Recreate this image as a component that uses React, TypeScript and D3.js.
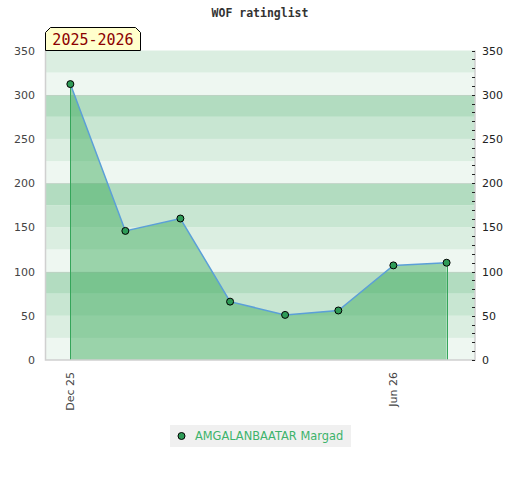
import React, { useEffect, useRef } from 'react';
import * as d3 from 'd3';

// monthly ratings, Dec 2025 .. Jul 2026
const months = ['2025-12-01', '2026-01-01', '2026-02-01', '2026-03-01', '2026-04-01', '2026-05-01', '2026-06-01', '2026-07-01'];
const ratings = [312, 146, 160, 66, 51, 56, 107, 110];
const yTicks = [0, 50, 100, 150, 200, 250, 300, 350];
const xTickDates = ['2025-12-01', '2026-06-01'];
const playerName = 'AMGALANBAATAR Margad';
const seasonLabel = '2025-2026';
const chartTitle = 'WOF ratinglist';

const App: React.FC = () => {
  const svgRef = useRef<SVGSVGElement>(null);

  useEffect(() => {
    const width = 520;
    const height = 480;
    const left = 45.5;
    const right = 475;
    const top = 50.5;
    const bottom = 360;

    const svg = d3.select(svgRef.current).attr('width', width).attr('height', height);
    svg.selectAll('*').remove();

    const parse = d3.utcParse('%Y-%m-%d');
    const data = months.map((m, i) => ({ date: parse(m) as Date, value: ratings[i] }));

    const x = d3.scaleUtc()
      .domain([parse('2025-11-17') as Date, parse('2026-07-17') as Date])
      .range([left, right]);
    const y = d3.scaleLinear().domain([0, 350]).range([bottom, top]);

    // horizontal bands every 25
    const bandColors = ['#eef7f1', '#dbeee1', '#c8e6d2', '#b2dcc0'];
    const bands = d3.range(0, 350, 25);
    svg.append('g')
      .selectAll('rect')
      .data(bands)
      .enter()
      .append('rect')
      .attr('x', left)
      .attr('width', right - left)
      .attr('y', d => y(d + 25))
      .attr('height', d => y(d) - y(d + 25))
      .attr('fill', d => bandColors[(d / 25) % 4]);

    // grid lines at hundreds
    svg.append('g')
      .selectAll('line')
      .data([100, 200, 300])
      .enter()
      .append('line')
      .attr('x1', left)
      .attr('x2', right)
      .attr('y1', d => Math.round(y(d)) + 0.5)
      .attr('y2', d => Math.round(y(d)) + 0.5)
      .attr('stroke', '#c8c8c8')
      .attr('stroke-opacity', 0.45)
      .attr('stroke-width', 1);

    // area
    const area = d3.area<{ date: Date; value: number }>()
      .x(d => x(d.date))
      .y0(bottom)
      .y1(d => y(d.value));
    svg.append('path')
      .datum(data)
      .attr('d', area)
      .attr('fill', 'rgb(51,167,85)')
      .attr('fill-opacity', 0.45);

    // vertical edges of the area
    const first = data[0];
    const last = data[data.length - 1];
    svg.append('g')
      .selectAll('line')
      .data([first, last])
      .enter()
      .append('line')
      .attr('x1', d => Math.round(x(d.date)) + 0.5)
      .attr('x2', d => Math.round(x(d.date)) + 0.5)
      .attr('y1', d => y(d.value))
      .attr('y2', bottom)
      .attr('stroke', '#35a55a')
      .attr('stroke-width', 1);

    // line
    const line = d3.line<{ date: Date; value: number }>()
      .x(d => x(d.date))
      .y(d => y(d.value));
    svg.append('path')
      .datum(data)
      .attr('d', line)
      .attr('fill', 'none')
      .attr('stroke', '#5b9fd8')
      .attr('stroke-width', 1.5);

    // points
    svg.append('g')
      .selectAll('circle')
      .data(data)
      .enter()
      .append('circle')
      .attr('cx', d => x(d.date))
      .attr('cy', d => y(d.value))
      .attr('r', 3.5)
      .attr('fill', '#2e9b57')
      .attr('stroke', '#000')
      .attr('stroke-width', 1);

    // frame
    svg.append('path')
      .attr('d', `M${left},${top}V${bottom}H${right}V${top}`)
      .attr('fill', 'none')
      .attr('stroke', '#d0d0d0')
      .attr('stroke-width', 1.5);

    // left axis labels
    svg.append('g')
      .selectAll('text')
      .data(yTicks)
      .enter()
      .append('text')
      .attr('x', 35)
      .attr('y', d => y(d) + 4)
      .attr('text-anchor', 'end')
      .attr('font-family', 'DejaVu Sans')
      .attr('font-size', 11)
      .attr('fill', '#444')
      .text(d => d);

    // right axis with minor ticks
    svg.append('g')
      .selectAll('line')
      .data(d3.range(0, 351, 10))
      .enter()
      .append('line')
      .attr('x1', right - 3)
      .attr('x2', right)
      .attr('y1', d => Math.round(y(d)) + 0.5)
      .attr('y2', d => Math.round(y(d)) + 0.5)
      .attr('stroke', '#222')
      .attr('stroke-width', 1);
    svg.append('g')
      .selectAll('text')
      .data(yTicks)
      .enter()
      .append('text')
      .attr('x', 482)
      .attr('y', d => y(d) + 4)
      .attr('font-family', 'DejaVu Sans')
      .attr('font-size', 11)
      .attr('fill', '#222')
      .text(d => d);

    // x labels
    const fmt = d3.utcFormat('%b %y');
    svg.append('g')
      .selectAll('text')
      .data(xTickDates.map(d => parse(d) as Date))
      .enter()
      .append('text')
      .attr('transform', d => `translate(${x(d) + 4},372) rotate(-90)`)
      .attr('text-anchor', 'end')
      .attr('font-family', 'DejaVu Sans')
      .attr('font-size', 11)
      .attr('fill', '#444')
      .text(d => fmt(d));

    // title
    svg.append('text')
      .attr('x', 260)
      .attr('y', 16.5)
      .attr('text-anchor', 'middle')
      .attr('font-family', 'DejaVu Sans Mono')
      .attr('font-weight', 'bold')
      .attr('font-size', 11.5)
      .attr('fill', '#333')
      .text(chartTitle);

    // season label box
    const bx0 = 45.5, bx1 = 140.5, by0 = 27.5, by1 = 50.5, c = 5;
    svg.append('path')
      .attr('d', `M${bx0},${by1}V${by0 + c}L${bx0 + c},${by0}H${bx1 - c}L${bx1},${by0 + c}V${by1}Z`)
      .attr('fill', '#ffffcc')
      .attr('stroke', '#000')
      .attr('stroke-width', 1);
    svg.append('text')
      .attr('x', (bx0 + bx1) / 2)
      .attr('y', 45)
      .attr('text-anchor', 'middle')
      .attr('font-family', 'DejaVu Sans Mono')
      .attr('font-size', 15)
      .attr('fill', '#8b0000')
      .text(seasonLabel);

    // legend
    const lg = svg.append('g');
    lg.append('rect')
      .attr('x', 170)
      .attr('y', 425)
      .attr('width', 181)
      .attr('height', 22)
      .attr('fill', '#f0f0f0');
    lg.append('circle')
      .attr('cx', 181.5)
      .attr('cy', 436)
      .attr('r', 3.5)
      .attr('fill', '#2e9b57')
      .attr('stroke', '#000')
      .attr('stroke-width', 1);
    lg.append('text')
      .attr('x', 195)
      .attr('y', 440)
      .attr('font-family', 'DejaVu Sans')
      .attr('font-size', 11.4)
      .attr('fill', '#3cb36b')
      .text(playerName);
  }, []);

  return <svg ref={svgRef} style={{ position: 'absolute', left: 0, top: 0 }}></svg>;
};

export default App;
